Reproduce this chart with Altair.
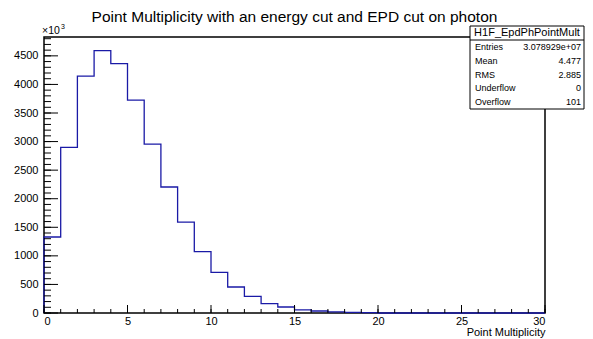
import altair as alt
import pandas as pd

# ---- data ----
bin_lo = list(range(0, 30))
counts = [1330, 2900, 4145, 4590, 4365, 3725, 2955, 2205, 1590, 1075,
          710, 455, 290, 165, 105, 55, 35, 18, 10, 5,
          0, 0, 0, 0, 0, 0, 0, 0, 0, 0]
x_major = [0, 5, 10, 15, 20, 25, 30]
x_minor = list(range(0, 31))
y_major = [0, 500, 1000, 1500, 2000, 2500, 3000, 3500, 4000, 4500]
y_minor = list(range(0, 4900, 100))
stat_names = ["Entries", "Mean", "RMS", "Underflow", "Overflow"]
stat_values = ["3.078929e+07", "4.477", "2.885", "0", "101"]
hist_name = "H1F_EpdPhPointMult"
title_text = "Point Multiplicity with an energy cut and EPD cut on photon"
x_title = "Point Multiplicity"

W, H = 501, 276
FONT = "Liberation Sans"
YMAX = 4830

# step points
xs = [0] + bin_lo + [30]
ys = [0] + counts + [counts[-1]]
hist = pd.DataFrame({"x": xs, "y": ys, "o": list(range(len(xs)))})

xscale = alt.Scale(domain=[0, 30], nice=False, zero=False)
yscale = alt.Scale(domain=[0, YMAX], nice=False)

XAX = alt.Axis(values=x_major, ticks=False, domain=False, grid=False,
               format="d", labelOverlap=False,
               labelFont=FONT, labelFontSize=11, labelColor="#000",
               labelPadding=2, title=x_title, titleFont=FONT,
               titleFontSize=11, titleFontWeight="normal",
               titleAnchor="end", titlePadding=0, titleColor="#000")
YAX = alt.Axis(values=y_major, ticks=False, domain=False, grid=False,
               format="d", labelOverlap=False,
               labelFont=FONT, labelFontSize=11, labelColor="#000",
               labelPadding=6, title=None)

line = alt.Chart(hist).mark_line(interpolate="step-after", color="#1a1aa6",
                                 strokeWidth=1.3).encode(
    x=alt.X("x:Q", scale=xscale, axis=XAX, title=x_title),
    y=alt.Y("y:Q", scale=yscale, axis=YAX, title=None),
    order="o:Q",
)

# ticks (ROOT style, inside the frame)
xmin_df = pd.DataFrame({"t": x_minor})
xmaj_df = pd.DataFrame({"t": x_major})
ymin_df = pd.DataFrame({"t": y_minor})
ymaj_df = pd.DataFrame({"t": y_major})

xt_minor = alt.Chart(xmin_df).mark_rule(color="#000", strokeWidth=1).encode(
    x=alt.X("t:Q", scale=xscale, axis=XAX, title=x_title),
    y=alt.value(H), y2=alt.value(H - 4))
xt_major = alt.Chart(xmaj_df).mark_rule(color="#000", strokeWidth=1).encode(
    x=alt.X("t:Q", scale=xscale, axis=XAX, title=x_title),
    y=alt.value(H), y2=alt.value(H - 8))
yt_minor = alt.Chart(ymin_df).mark_rule(color="#000", strokeWidth=1).encode(
    y=alt.Y("t:Q", scale=yscale, axis=YAX, title=None),
    x=alt.value(0), x2=alt.value(7))
yt_major = alt.Chart(ymaj_df).mark_rule(color="#000", strokeWidth=1).encode(
    y=alt.Y("t:Q", scale=yscale, axis=YAX, title=None),
    x=alt.value(0), x2=alt.value(14))

# x10^3 label
exp1 = alt.Chart(pd.DataFrame({"s": ["×10"]})).mark_text(
    font=FONT, fontSize=10.5, align="left", baseline="alphabetic", color="#000"
).encode(text="s:N", x=alt.value(-2), y=alt.value(-3))
exp2 = alt.Chart(pd.DataFrame({"s": ["3"]})).mark_text(
    font=FONT, fontSize=7, align="left", baseline="alphabetic", color="#000"
).encode(text="s:N", x=alt.value(17), y=alt.value(-8))

# stats box
BX0, BX1 = 426, 540
box = alt.Chart(pd.DataFrame({"a": [0]})).mark_rect(
    fill="white", stroke="#000", strokeWidth=1
).encode(x=alt.value(BX0), x2=alt.value(BX1), y=alt.value(-11), y2=alt.value(72))
sep = alt.Chart(pd.DataFrame({"a": [0]})).mark_rule(color="#000", strokeWidth=1).encode(
    x=alt.value(BX0), x2=alt.value(BX1), y=alt.value(3))
hdr = alt.Chart(pd.DataFrame({"s": [hist_name]})).mark_text(
    font=FONT, fontSize=11, align="center", baseline="middle", color="#000"
).encode(text="s:N", x=alt.value((BX0 + BX1) / 2), y=alt.value(-4))

row_y = [10, 24, 38, 51, 65]
stats_df = pd.DataFrame({"n": stat_names, "v": stat_values, "ry": row_y})
names = alt.Chart(stats_df).mark_text(
    font=FONT, fontSize=9, align="left", baseline="middle", color="#000"
).encode(text="n:N", x=alt.value(BX0 + 5), y=alt.Y("ry:Q", scale=None))
vals = alt.Chart(stats_df).mark_text(
    font=FONT, fontSize=9, align="right", baseline="middle", color="#000"
).encode(text="v:N", x=alt.value(BX1 - 3), y=alt.Y("ry:Q", scale=None))

chart = alt.layer(
    line, xt_minor, xt_major, yt_minor, yt_major, exp1, exp2,
    box, sep, hdr, names, vals
).properties(
    width=W, height=H,
    title=alt.TitleParams(title_text, font=FONT, fontSize=15.5, fontWeight="normal",
                          anchor="middle", offset=-2, color="#000"),
    padding={"left": 36, "top": 29, "right": 40, "bottom": 26},
    autosize=alt.AutoSizeParams(type="none"),
).configure(
    background="white"
).configure_view(
    stroke="#000", strokeWidth=1.5
)

chart.save("out.html", embed_options={"renderer": "svg", "actions": False})
